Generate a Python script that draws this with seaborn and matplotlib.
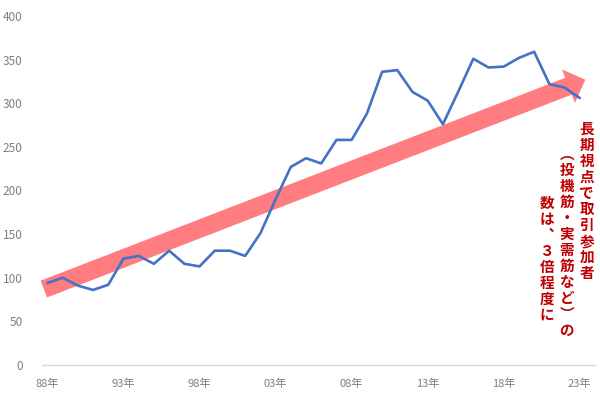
import matplotlib
matplotlib.use("Agg")
import matplotlib.pyplot as plt
import numpy as np
import pandas as pd
import seaborn as sns
from matplotlib.patches import FancyArrow
from matplotlib.transforms import IdentityTransform

# ---- data ----
years = list(range(1988, 2024))
values = [94, 100, 91, 86, 92, 122, 125, 116, 131, 116, 113, 131, 131, 125, 151,
          190, 227, 237, 231, 258, 258, 288, 336, 338, 313, 303, 276, 313, 351,
          341, 342, 352, 359, 322, 318, 306]
tick_years = [1988, 1993, 1998, 2003, 2008, 2013, 2018, 2023]
tick_labels = ["88年", "93年", "98年", "03年", "08年", "13年", "18年", "23年"]
y_ticks = [0, 50, 100, 150, 200, 250, 300, 350, 400]
note_cols = ["長期視点で取引参加者", "︵投機筋・実需筋など︶の", "数は︑３倍程度に"]
trend_start = (-0.24, 87)     # (index, value) of arrow tail
trend_end = (35.36, 327)      # (index, value) of arrow tip

sns.set_theme(style="white")
plt.rcParams["font.family"] = ["Noto Sans CJK JP", "DejaVu Sans"]

W, H, DPI = 600, 394, 100
fig = plt.figure(figsize=(W / DPI, H / DPI), dpi=DPI)
ax = fig.add_axes([42 / W, (H - 365) / H, (595 - 42) / W, (365 - 16) / H])

df = pd.DataFrame({"idx": np.arange(len(years)), "value": values})
sns.lineplot(data=df, x="idx", y="value", ax=ax, color="#4472C4",
             linewidth=1.9, zorder=3)

ax.set_xlim(-0.36, 36.0)
ax.set_ylim(0, 400)
ax.set_xticks([y - years[0] for y in tick_years])
ax.set_xticklabels(tick_labels)
ax.set_yticks(y_ticks)
ax.set_xlabel("")
ax.set_ylabel("")
ax.grid(False)
for s in ["left", "top", "right"]:
    ax.spines[s].set_visible(False)
ax.spines["bottom"].set_color("#D9D9D9")
ax.spines["bottom"].set_linewidth(1.0)
ax.tick_params(axis="x", colors="#D9D9D9", length=4, width=1, pad=6,
               labelcolor="#7F7F7F", labelsize=8)
ax.tick_params(axis="y", length=0, pad=14, labelcolor="#7F7F7F", labelsize=8.5)

# trend arrow (drawn beneath the line)
p0 = ax.transData.transform(trend_start)
p1 = ax.transData.transform(trend_end)
arrow = FancyArrow(p0[0], p0[1], p1[0] - p0[0], p1[1] - p0[1], width=18,
                   head_width=36, head_length=18, length_includes_head=True,
                   transform=IdentityTransform(), color="#FF7C80", lw=0,
                   zorder=1, clip_on=False)
ax.add_patch(arrow)

# vertical annotation
col_pos = [(586.7, 121), (566.7, 146), (546.7, 195)]
for text, (px, py) in zip(note_cols, col_pos):
    fig.text(px / W, 1 - py / H, "\n".join(text), ha="center", va="top",
             color="#C00000", fontsize=10.5, fontweight="bold",
             linespacing=1.0)

fig.savefig("out.png", dpi=DPI)
